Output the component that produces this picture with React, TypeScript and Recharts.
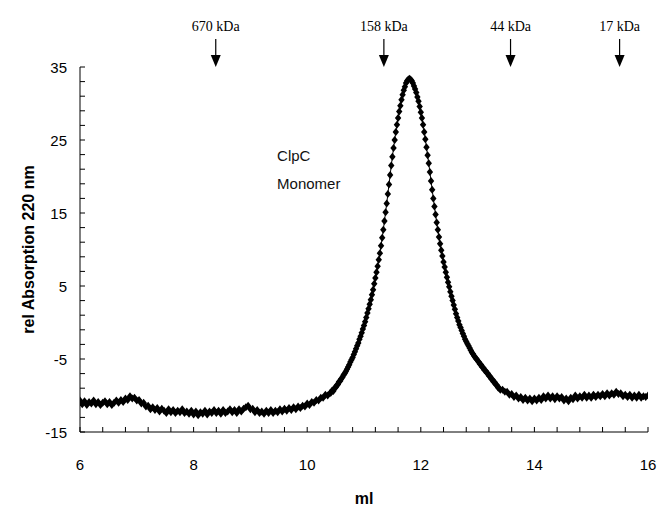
import React from 'react';
import { LineChart, Line, XAxis, YAxis, ReferenceDot } from 'recharts';

// Elution volume sampling (ml) for each recorded stretch
const leftStart = 6.0;
const leftStep = 0.04;
const peakStart = 10.42;
const peakStep = 0.02;
const rightStart = 13.44;
const rightStep = 0.04;

// rel Absorption 220 nm, baseline before the peak (6.00 - 10.40 ml)
const leftAbs = [
  -10.7, -11.2, -10.8, -11.3, -10.9, -11.1, -10.7, -11.2, -10.9, -11.3,
  -11.0, -10.8, -11.2, -10.9, -11.3, -11.0, -10.7, -11.0, -10.6, -10.9,
  -10.4, -10.6, -10.1, -10.4, -10.3, -10.7, -10.6, -11.1, -11.0, -11.5,
  -11.4, -11.9, -11.6, -12.0, -11.7, -12.2, -11.8, -12.1, -12.4, -11.9,
  -12.3, -12.0, -12.4, -12.1, -12.3, -11.9, -12.4, -12.2, -12.5, -12.1,
  -12.6, -12.2, -12.7, -12.3, -12.5, -12.1, -12.6, -12.2, -12.4, -12.0,
  -12.4, -12.1, -12.5, -12.0, -12.4, -12.2, -11.9, -12.3, -12.0, -12.4,
  -11.9, -12.2, -11.8, -11.6, -11.4, -11.9, -11.8, -12.3, -12.0, -12.4,
  -12.2, -12.5, -12.1, -12.4, -12.0, -12.4, -12.1, -12.3, -11.9, -12.2,
  -11.8, -12.1, -11.7, -12.0, -11.6, -11.9, -11.5, -11.7, -11.4, -11.5,
  -11.1, -11.3, -10.9, -11.0, -10.6, -10.7, -10.3, -10.3, -9.9, -10.0,
  -9.7,
];

// rel Absorption 220 nm, peak region (10.42 - 13.40 ml)
const peakAbs = [
  -9.6, -9.3, -9.4, -9.0, -8.9, -8.6, -8.5, -8.1, -8.0, -7.7,
  -7.5, -7.2, -7.0, -6.7, -6.4, -6.1, -5.8, -5.4, -5.1, -4.8,
  -4.4, -4.0, -3.6, -3.2, -2.8, -2.3, -1.9, -1.4, -0.9, -0.4,
  0.1, 0.7, 1.3, 1.9, 2.5, 3.1, 3.8, 4.5, 5.3, 6.1,
  6.9, 7.7, 8.6, 9.5, 10.5, 11.6, 12.7, 13.9, 15.1, 16.3,
  17.6, 18.9, 20.2, 21.5, 22.7, 23.9, 25.0, 26.1, 27.1, 28.0,
  28.9, 29.7, 30.5, 31.2, 31.8, 32.3, 32.8, 33.1, 33.3, 33.4,
  33.3, 33.1, 32.8, 32.4, 32.0, 31.5, 30.9, 30.3, 29.6, 28.8,
  28.0, 27.1, 26.1, 25.1, 24.0, 22.9, 21.8, 20.6, 19.4, 18.2,
  17.0, 15.9, 14.8, 13.7, 12.7, 11.7, 10.8, 9.9, 9.1, 8.3,
  7.6, 6.9, 6.2, 5.5, 4.9, 4.2, 3.6, 3.0, 2.4, 1.8,
  1.2, 0.7, 0.2, -0.3, -0.7, -1.1, -1.5, -1.9, -2.3, -2.6,
  -2.9, -3.2, -3.5, -3.8, -4.1, -4.3, -4.6, -4.8, -5.0, -5.2,
  -5.4, -5.7, -5.8, -6.1, -6.2, -6.5, -6.6, -6.9, -7.0, -7.3,
  -7.4, -7.7, -7.8, -8.1, -8.2, -8.5, -8.6, -8.9, -9.0, -9.2,
];

// rel Absorption 220 nm, baseline after the peak (13.44 - 16.00 ml)
const rightAbs = [
  -9.2, -9.5, -9.5, -9.9, -9.8, -10.2, -10.0, -10.4, -10.2, -10.6,
  -10.3, -10.7, -10.4, -10.8, -10.4, -10.7, -10.3, -10.6, -10.1, -10.4,
  -10.0, -10.4, -10.1, -10.5, -10.1, -10.4, -10.2, -10.7, -10.4, -10.8,
  -10.3, -10.5, -10.0, -10.4, -10.1, -10.3, -9.9, -10.3, -10.0, -10.3,
  -9.9, -10.2, -9.9, -10.1, -9.8, -10.1, -9.7, -10.0, -9.7, -9.9,
  -9.5, -9.8, -9.7, -10.1, -9.9, -10.2, -9.9, -10.3, -10.0, -10.3,
  -9.9, -10.3, -10.1, -10.2, -10.0,
];

// Axis ticks
const xTicks = [6, 6.4, 6.8, 7.2, 7.6, 8, 8.4, 8.8, 9.2, 9.6, 10, 10.4, 10.8, 11.2, 11.6, 12, 12.4, 12.8, 13.2, 13.6, 14, 14.4, 14.8, 15.2, 15.6, 16];
const xLabels = [6, 8, 10, 12, 14, 16];
const yTicks = [-15, -13, -11, -9, -7, -5, -3, -1, 1, 3, 5, 7, 9, 11, 13, 15, 17, 19, 21, 23, 25, 27, 29, 31, 33, 35];
const yLabels = [-15, -5, 5, 15, 25, 35];

// Molecular weight standards (arrows)
const markerLabels = ['670 kDa', '158 kDa', '44 kDa', '17 kDa'];
const markerMl = [8.39, 11.35, 13.58, 15.5];

const buildSegment = (start: number, step: number, values: number[]) =>
  values.map((v, i) => ({ ml: +(start + i * step).toFixed(2), abs: v }));

const data = [
  ...buildSegment(leftStart, leftStep, leftAbs),
  ...buildSegment(peakStart, peakStep, peakAbs),
  ...buildSegment(rightStart, rightStep, rightAbs),
];

const sans = "'Liberation Sans', Arial, sans-serif";
const serif = "'Liberation Serif', 'Times New Roman', serif";

const isLabeled = (v: number, list: number[]) => list.some((l) => Math.abs(l - v) < 1e-6);

const XTick = (props: any) => {
  const { x, y, payload } = props;
  const v = payload.value;
  return (
    <g>
      <line x1={x} y1={y} x2={x} y2={y - 5} stroke="#000" strokeWidth={1} />
      {isLabeled(v, xLabels) && (
        <text x={x} y={y + 32} textAnchor="middle" dominantBaseline="central" fontFamily={sans} fontSize={15} fill="#000">
          {v}
        </text>
      )}
    </g>
  );
};

const YTick = (props: any) => {
  const { x, y, payload } = props;
  const v = payload.value;
  return (
    <g>
      <line x1={x} y1={y} x2={x + 5} y2={y} stroke="#000" strokeWidth={1} />
      {isLabeled(v, yLabels) && (
        <text x={x - 13} y={y} textAnchor="end" dominantBaseline="central" fontFamily={sans} fontSize={15} fill="#000">
          {v}
        </text>
      )}
    </g>
  );
};

const Diamond = (props: any) => {
  const { cx, cy, index } = props;
  if (cx == null || cy == null) return <g key={`d${index}`} />;
  return (
    <path
      key={`d${index}`}
      d={`M${cx},${cy - 4} L${cx + 3.2},${cy} L${cx},${cy + 4} L${cx - 3.2},${cy} Z`}
      fill="#000"
    />
  );
};

const ArrowMarker = (label: string) => (props: any) => {
  const { cx, cy } = props;
  return (
    <g>
      <text x={cx} y={cy - 41} textAnchor="middle" dominantBaseline="central" fontFamily={serif} fontSize={14} fill="#000">
        {label}
      </text>
      <line x1={cx} y1={cy - 28} x2={cx} y2={cy - 10} stroke="#000" strokeWidth={1.2} />
      <path d={`M${cx - 5},${cy - 12} L${cx + 5},${cy - 12} L${cx},${cy} Z`} fill="#000" />
    </g>
  );
};

const MonomerLabel = (props: any) => {
  const { cx, cy } = props;
  return (
    <g>
      <text x={cx} y={cy - 14} textAnchor="start" dominantBaseline="central" fontFamily={sans} fontSize={15} fill="#111">
        ClpC
      </text>
      <text x={cx} y={cy + 14} textAnchor="start" dominantBaseline="central" fontFamily={sans} fontSize={15} fill="#111">
        Monomer
      </text>
    </g>
  );
};

const YTitle = (props: any) => {
  const { cx, cy } = props;
  const x = cx - 52;
  return (
    <text x={x} y={cy} transform={`rotate(-90 ${x} ${cy})`} textAnchor="middle" dominantBaseline="central" fontFamily={sans} fontSize={16} fontWeight="bold" fill="#000">
      rel Absorption 220 nm
    </text>
  );
};

const XTitle = (props: any) => {
  const { cx, cy } = props;
  return (
    <text x={cx} y={cy + 66} textAnchor="middle" dominantBaseline="central" fontFamily={sans} fontSize={16} fontWeight="bold" fill="#000">
      ml
    </text>
  );
};

export default function App() {
  return (
    <div style={{ position: 'absolute', left: 0, top: 0, width: 659, height: 512, background: '#fff' }}>
      <LineChart width={659} height={512} data={data} margin={{ top: 67, right: 11, bottom: 50, left: 40 }}>
        <XAxis
          dataKey="ml"
          type="number"
          domain={[6, 16]}
          ticks={xTicks}
          interval={0}
          tickSize={0}
          tickMargin={0}
          tickLine={false}
          height={30}
          stroke="#000"
          tick={<XTick />}
          allowDataOverflow
        />
        <YAxis
          type="number"
          domain={[-15, 35]}
          ticks={yTicks}
          interval={0}
          tickSize={0}
          tickMargin={0}
          tickLine={false}
          width={40}
          stroke="#000"
          tick={<YTick />}
          allowDataOverflow
        />
        <Line
          dataKey="abs"
          type="linear"
          stroke="#000"
          strokeWidth={1}
          dot={Diamond}
          activeDot={false}
          isAnimationActive={false}
        />
        {markerLabels.map((label, i) => (
          <ReferenceDot key={label} x={markerMl[i]} y={35} r={0} ifOverflow="visible" shape={ArrowMarker(label)} />
        ))}
        <ReferenceDot x={9.47} y={21} r={0} ifOverflow="visible" shape={MonomerLabel} />
        <ReferenceDot x={6} y={10} r={0} ifOverflow="visible" shape={YTitle} />
        <ReferenceDot x={11} y={-15} r={0} ifOverflow="visible" shape={XTitle} />
      </LineChart>
    </div>
  );
}
